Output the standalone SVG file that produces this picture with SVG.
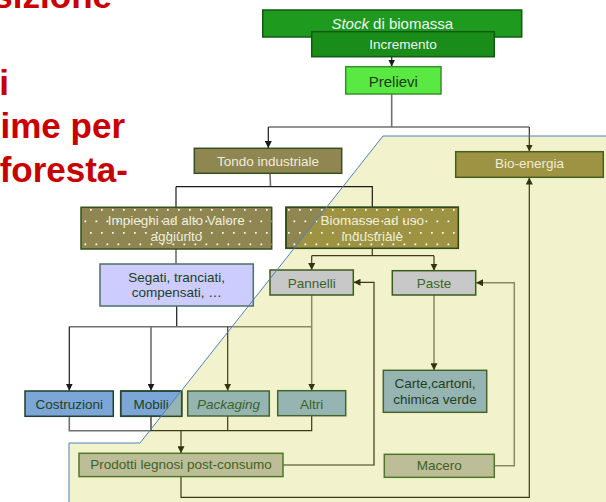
<svg xmlns="http://www.w3.org/2000/svg" width="606" height="502" viewBox="0 0 606 502">
<style>
text{font-family:"Liberation Sans",Arial,sans-serif}
.red{font-size:35px;font-weight:bold;fill:#C80000;text-anchor:end}
.t{text-anchor:middle;font-size:13.5px}
.lt{fill:#EDEDD8}
.dk{fill:#22401E}
.gr{fill:#3A6428}
.c{fill:none;stroke-width:1.2}
.k{stroke:#1a1a1a}
.g{stroke:#707070;stroke-width:1.6}
.o{stroke:#3A3A14}
.og{stroke:#8A8A62;stroke-width:1.5}
.ak{marker-end:url(#ak)}
.ao{marker-end:url(#ao)}
.olive{fill:#8F8652;stroke:#34501C;stroke-width:1.5}
.olive2{fill:#9E9342;stroke:#44601C;stroke-width:1.5}
.grey{fill:#C8C8C8;stroke:#3C5C1C;stroke-width:1.5}
.blue{fill:#7CA6D8;stroke:#1F3F2F;stroke-width:1.5}
.teal{fill:#96B4B2;stroke:#44662C;stroke-width:1.5}
.khaki{fill:#BDBD97;stroke:#4C7A2A;stroke-width:1.5}
</style>
<defs>
<marker id="ak" markerUnits="userSpaceOnUse" viewBox="0 0 8 8" refX="8" refY="4" markerWidth="7" markerHeight="7" orient="auto"><path d="M0,0L8,4L0,8z" fill="#1a1a1a"/></marker>
<marker id="ao" markerUnits="userSpaceOnUse" viewBox="0 0 8 8" refX="8" refY="4" markerWidth="7" markerHeight="7" orient="auto"><path d="M0,0L8,4L0,8z" fill="#33330F"/></marker>
<pattern id="dots" patternUnits="userSpaceOnUse" x="0" y="0" width="22" height="23">
<rect x="2" y="2" width="1.7" height="1.7" fill="#fff"/>
<rect x="13" y="2" width="1.7" height="1.7" fill="#fff"/>
<rect x="7.5" y="13.5" width="1.7" height="1.7" fill="#fff"/>
<rect x="18.5" y="13.5" width="1.7" height="1.7" fill="#fff"/>
</pattern>
<clipPath id="zone"><polygon points="383,136 612,136 612,508 69,508 69,443 140,443"/></clipPath>
</defs>

<g id="titolo">
<text class="red" x="112" y="8">sizione</text>
<text class="red" x="9" y="95">i</text>
<text class="red" x="125" y="138">ime per</text>
<text class="red" x="128" y="182">foresta-</text>
</g>

<polygon id="zona-fondo" points="383,136 612,136 612,508 69,508 69,443 140,443" fill="#F2F2CC"/>

<g id="connectors">
<path class="c k ak" d="M391.7,57V66.5"/>
<path class="c g" d="M391.7,94V127"/>
<path class="c g" d="M268.3,127H529.3"/>
<path class="c k ak" d="M268.3,127V148"/>
<path class="c o ao" d="M529.3,127V151.5"/>
<path class="c g" d="M270,173.3L270.5,186.7"/>
<path class="c k" d="M176,186.7H372.3V207.3M176,186.7V207.3"/>
<path class="c g" d="M176,249V264"/>
<path class="c k" d="M176.7,306V326.7"/>
<path class="c g" d="M69.3,326.7H232"/>
<path class="c og" d="M232,326.7H311.7"/>
<path class="c k ak" d="M69.3,326.7V390.7"/>
<path class="c g ak" d="M151,326.7V390.7"/>
<path class="c o ao" d="M227.7,326.7V390.7"/>
<path class="c og ao" d="M311.7,295V390.7"/>
<path class="c g" d="M69.3,416.3V430.7H151"/>
<path class="c o" d="M151,430.7H311.7V415.7M227.7,416V430.7"/>
<path class="c k" d="M151,416.3V430.7"/>
<path class="c o ao" d="M181,430.7V453.3"/>
<path class="c o ao" d="M283,465H374V282.3H353.5"/>
<path class="c o ao" d="M181,476.7V497.3H529.3V177.5"/>
<path class="c o" d="M372.3,248.3V255.7M311.7,255.7H434"/>
<path class="c o ao" d="M311.7,255.7V270"/>
<path class="c o ao" d="M434,255.7V270.7"/>
<path class="c og ao" d="M434,295V370.3"/>
<path class="c og ao" d="M494.3,465.7H514.3V282.7H476"/>
</g>

<g id="stock">
<rect x="262.7" y="10" width="259" height="27" fill="#1E9A1E" stroke="#105A10" stroke-width="1.5"/>
<text x="392.3" y="29" text-anchor="middle" font-size="15" fill="#F2F2F2"><tspan font-style="italic">Stock</tspan> di biomassa</text>
</g>
<g id="incremento">
<rect x="311.7" y="31.7" width="182.6" height="25" fill="#1A8C1A" stroke="#105A10" stroke-width="1.5"/>
<text class="t" x="403" y="49" fill="#EEF5EE">Incremento</text>
</g>
<g id="prelievi">
<rect x="345.7" y="66.7" width="95.3" height="27.3" fill="#5AE842" stroke="#3A8E2E" stroke-width="1.5"/>
<text x="393.3" y="87" text-anchor="middle" font-size="15" fill="#1C3C1C">Prelievi</text>
</g>
<g id="tondo">
<rect class="olive" x="194.3" y="148.3" width="147.4" height="25"/>
<text class="t lt" x="268" y="165.7">Tondo industriale</text>
</g>
<g id="bioenergia">
<rect class="olive2" x="455.7" y="151.7" width="147.6" height="25.6"/>
<text class="t lt" x="529.5" y="168.3">Bio-energia</text>
</g>
<g id="impieghi">
<rect class="olive" x="81" y="207.3" width="190.7" height="41.7"/>
<rect x="81" y="207.3" width="190.7" height="41.7" fill="url(#dots)"/>
<text class="t lt" x="176.3" y="225" font-size="15">Impieghi ad alto Valore</text>
<text class="t lt" x="176.3" y="240.7" font-size="15">aggiunto</text>
</g>
<g id="biomasse">
<rect class="olive" x="286" y="207.3" width="172.3" height="41"/>
<rect x="286" y="207.3" width="172.3" height="41" fill="#9E9342" clip-path="url(#zone)"/>
<rect x="286" y="207.3" width="172.3" height="41" fill="url(#dots)"/>
<rect x="286" y="207.3" width="172.3" height="41" fill="none" stroke="#2E4A18" stroke-width="1.5"/>
<text class="t lt" x="372.2" y="225" font-size="15">Biomasse ad uso</text>
<text class="t lt" x="372.2" y="240.7" font-size="15">industriale</text>
</g>
<g id="segati">
<rect x="100" y="264" width="153.3" height="42" fill="#CCCCFF" stroke="#4F6F66" stroke-width="1.5"/>
<text class="t dk" x="176.7" y="281.7" font-size="14">Segati, tranciati,</text>
<text class="t dk" x="176.7" y="297.3" font-size="14">compensati, …</text>
</g>
<g id="pannelli">
<rect class="grey" x="270" y="270" width="83.3" height="25"/>
<text class="t gr" x="311.7" y="287.5">Pannelli</text>
</g>
<g id="paste">
<rect class="grey" x="392.3" y="270.7" width="83.4" height="24.3"/>
<text class="t gr" x="434" y="287.5">Paste</text>
</g>
<g id="costruzioni">
<rect class="blue" x="25" y="391" width="88.3" height="25.3"/>
<text class="t dk" x="69.2" y="409.3">Costruzioni</text>
</g>
<g id="mobili">
<rect class="blue" x="120.7" y="391" width="61" height="25.3"/>
<rect x="120.7" y="391" width="61" height="25.3" fill="#96B4B2" clip-path="url(#zone)"/>
<rect x="120.7" y="391" width="61" height="25.3" fill="none" stroke="#2A4A2A" stroke-width="1.5"/>
<text class="t dk" x="151.2" y="409.3">Mobili</text>
</g>
<g id="packaging">
<rect class="teal" x="187.7" y="391" width="81.6" height="25"/>
<text class="t gr" x="228.5" y="409.3" font-style="italic">Packaging</text>
</g>
<g id="altri">
<rect class="teal" x="277.7" y="390.7" width="68" height="25"/>
<text class="t gr" x="311.7" y="409.3">Altri</text>
</g>
<g id="carte">
<rect class="teal" x="383.3" y="370.3" width="103.4" height="42" stroke="#2A5A1A"/>
<text class="t dk" x="435" y="388.3">Carte,cartoni,</text>
<text class="t dk" x="435" y="404">chimica verde</text>
</g>
<g id="prodotti">
<rect class="khaki" x="79" y="453.3" width="204" height="23.3"/>
<text class="t gr" x="181" y="468.5" font-size="12">Prodotti legnosi post-consumo</text>
</g>
<g id="macero">
<rect class="khaki" x="384.3" y="454.3" width="110" height="23"/>
<text class="t gr" x="439.3" y="470" font-size="12">Macero</text>
</g>

<polygon id="zona-bordo" points="383,136 612,136 612,508 69,508 69,443 140,443" fill="none" stroke="#4F81BD" stroke-width="1"/>
</svg>
